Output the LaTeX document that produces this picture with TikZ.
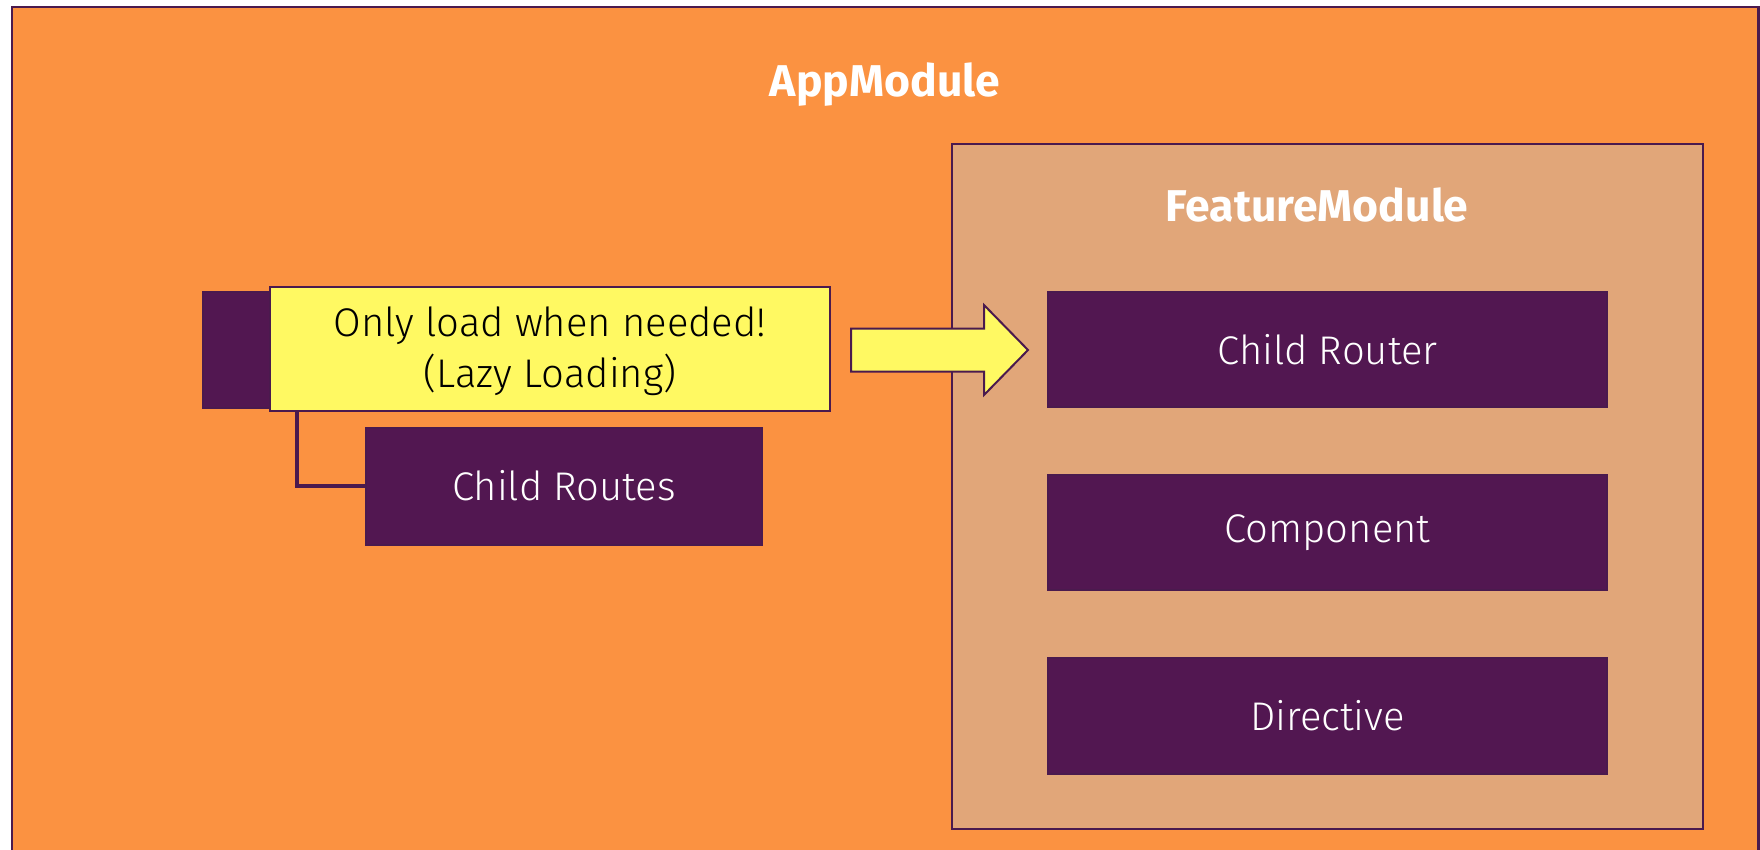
\documentclass[tikz,border=0pt]{standalone}
\usepackage{fontspec}
\setmainfont{Fira Sans}[UprightFont={* Light},BoldFont={* Bold}]
\definecolor{appbg}{HTML}{FB9241}
\definecolor{featbg}{HTML}{E1A679}
\definecolor{plum}{HTML}{521751}
\definecolor{plumline}{HTML}{4A1A4E}
\definecolor{lemon}{HTML}{FFF962}
\tikzset{
  module/.style={draw=plumline, line width=2.5pt},
  darkbox/.style={draw=plumline, fill=plum, line width=2pt, text=white, font=\fontsize{40}{50}\selectfont, inner sep=0pt},
  notebox/.style={draw=plumline, fill=lemon, line width=2pt, text=black, font=\fontsize{40}{51}\selectfont, align=center, inner sep=0pt},
  title/.style={text=white, font=\fontsize{44.5}{50}\selectfont\bfseries, anchor=base, inner sep=0pt},
  conn/.style={draw=plumline, line width=4pt},
  blockarrow/.style={draw=plumline, fill=lemon, line width=2pt, line join=miter}
}
\begin{document}
\begin{tikzpicture}[x=1pt,y=-1pt]
\useasboundingbox (0,0) rectangle (1760,849);
% outer module
\path[module, fill=appbg] (12,7) rectangle (1758.5,880);
\node[title] (app) at (885,96.7) {AppModule};
% feature module
\path[module, fill=featbg] (952,144) rectangle (1703,829);
\node[title] (feat) at (1317,221.7) {FeatureModule};
% boxes in feature module
\node[darkbox, minimum width=559pt, minimum height=115pt] (crouter) at (1327.5,349.5) {Child Router};
\node[darkbox, minimum width=559pt, minimum height=115pt] (comp) at (1327.5,532.5) {Component};
\node[darkbox, minimum width=559pt, minimum height=116pt] (dir) at (1327.5,716) {Directive};
% root router (hidden behind note)
\node[darkbox, minimum width=120pt, minimum height=116pt] (router) at (263,350) {};
\coordinate (tap) at (297,350);
% child routes
\node[darkbox, minimum width=396pt, minimum height=117pt] (croutes) at (564,486) {Child Routes};
\draw[conn] (tap) |- (croutes.west);
% note
\node[notebox, minimum width=560pt, minimum height=124pt] (note) at (550,349) {\rule{0pt}{35pt}Only load when needed!\\(Lazy Loading)};
% block arrow
\path[blockarrow] (851,328.5) -- (984,328.5) -- (984,305) -- (1028,350) -- (984,395) -- (984,371.5) -- (851,371.5) -- cycle;
\end{tikzpicture}
\end{document}
